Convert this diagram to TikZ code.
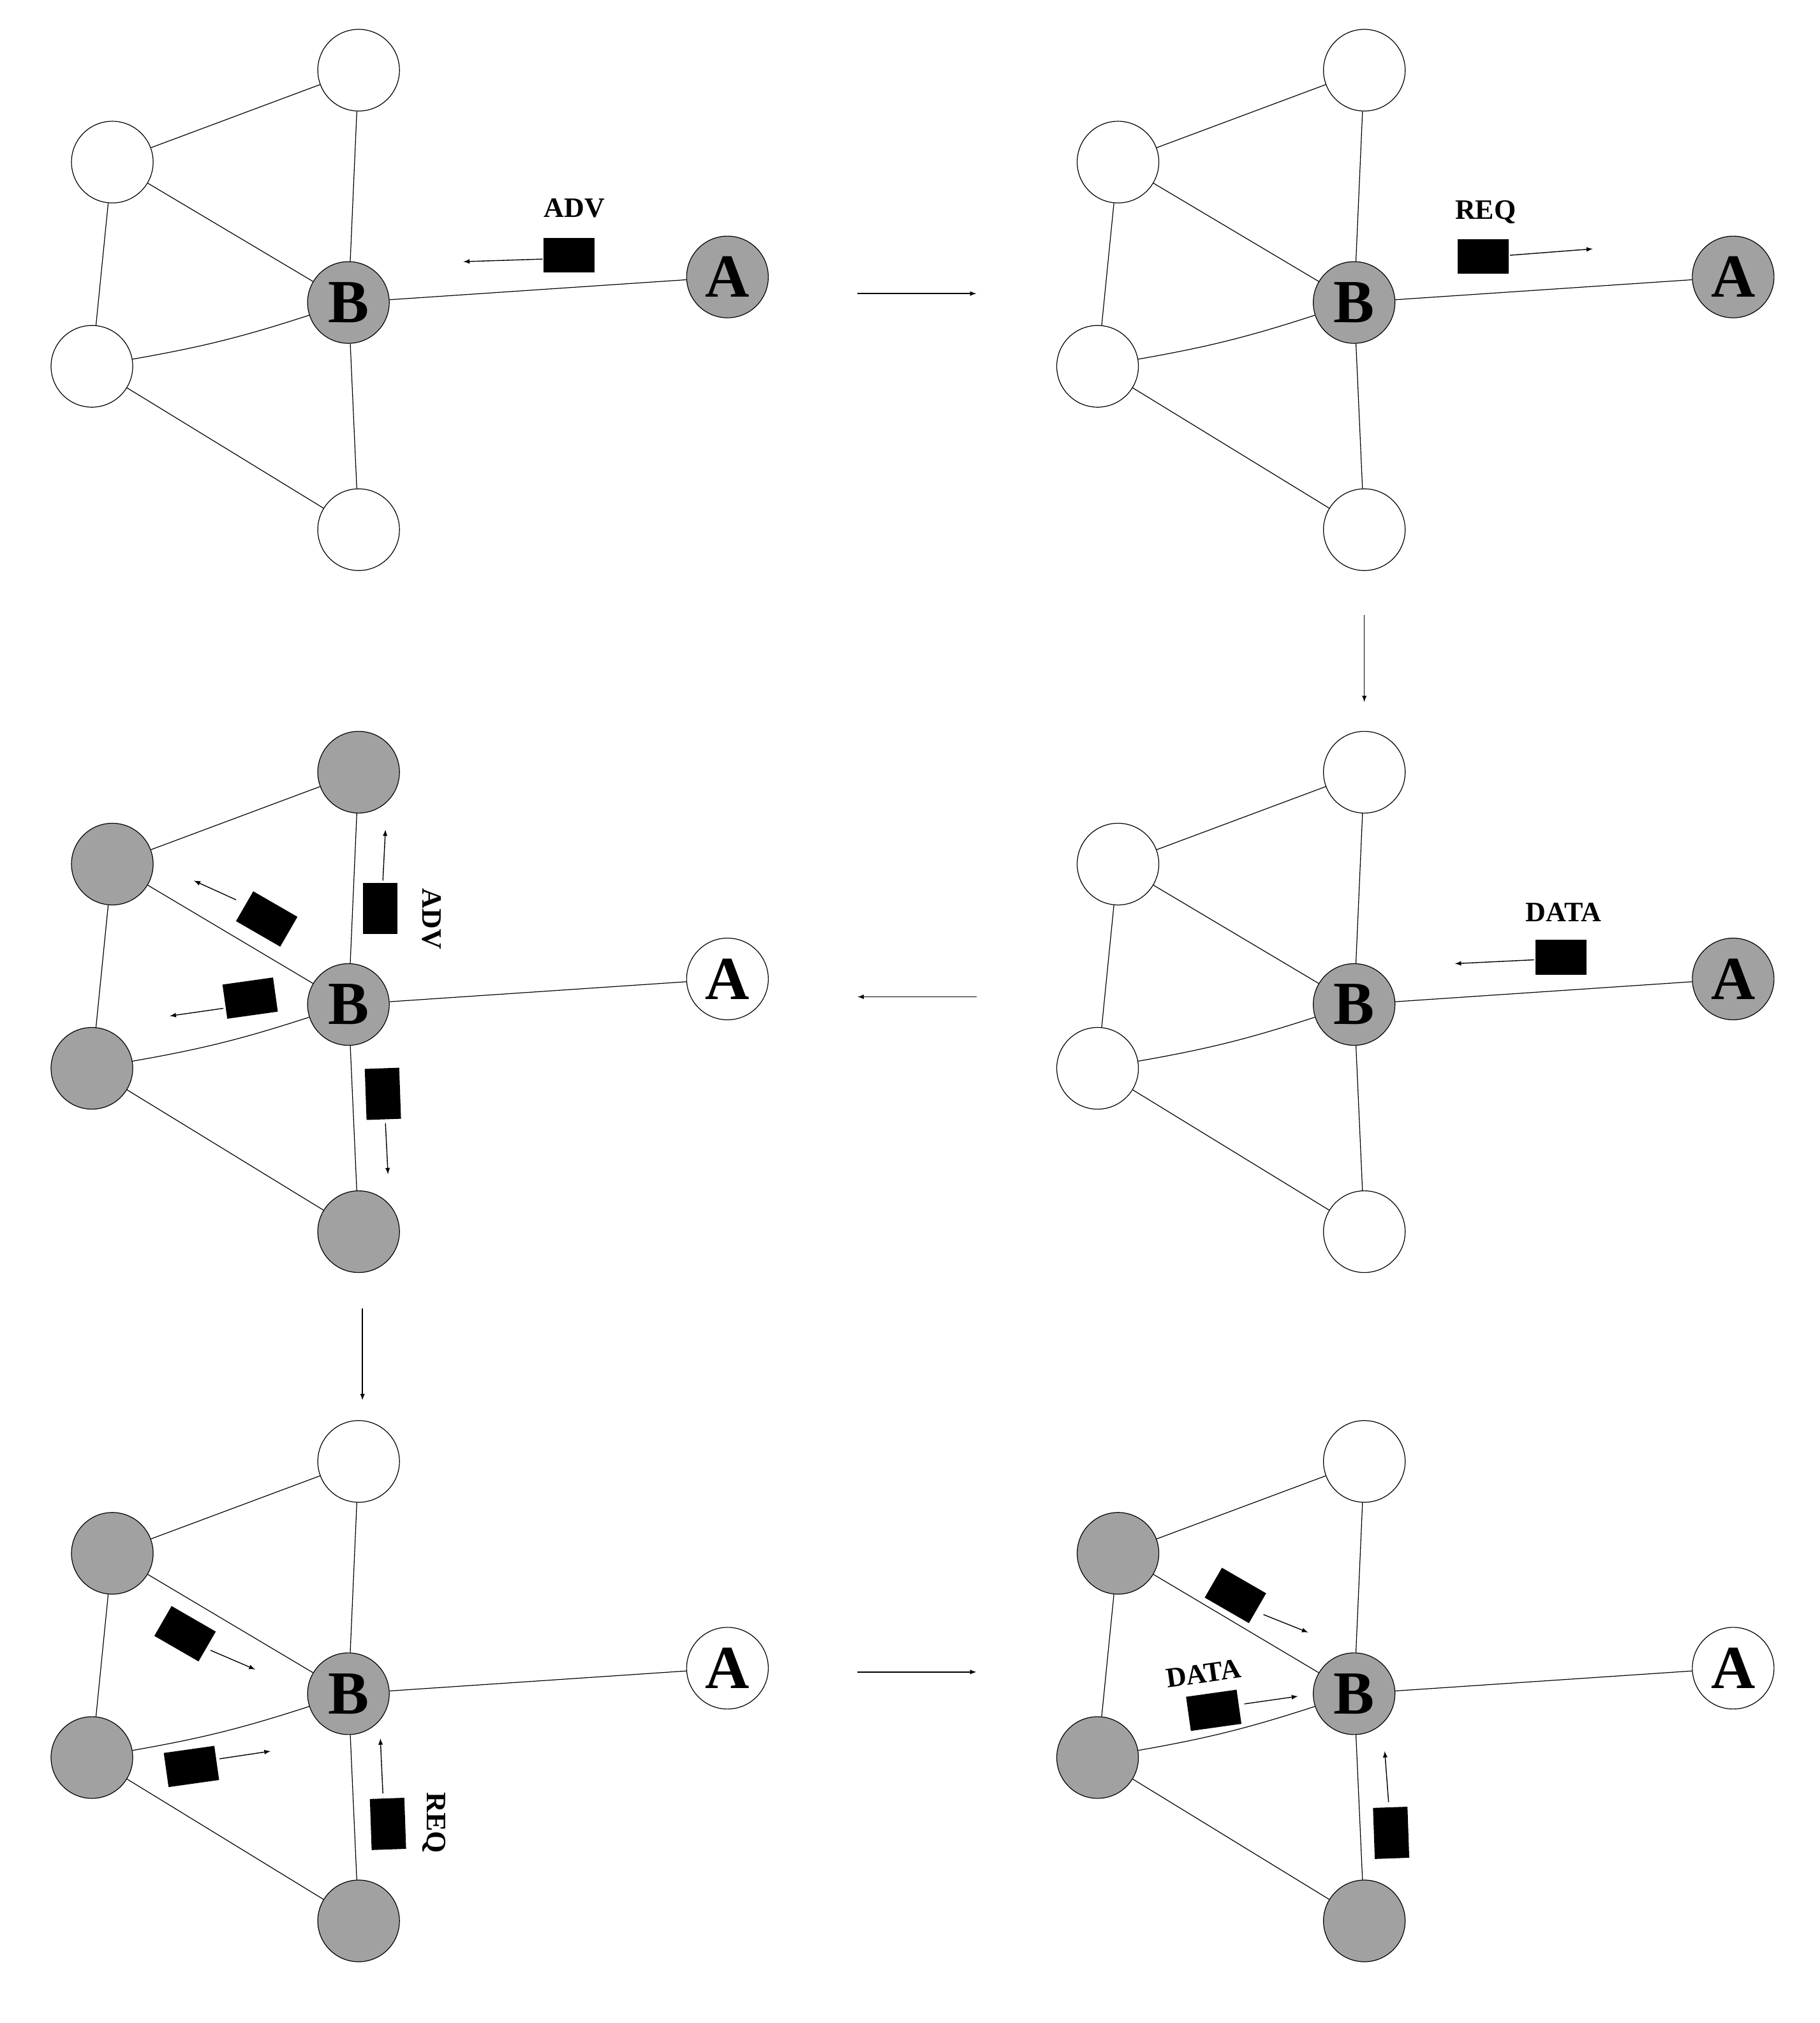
\documentclass[tikz,border=0pt]{standalone}
\usepackage{fontspec}
\setmainfont{Liberation Serif}
\begin{document}
\begin{tikzpicture}[x=1pt,y=-1pt,
  nd/.style={circle,draw,line width=0.6pt,minimum size=64pt,inner sep=0pt,font=\fontsize{48}{48}\selectfont\bfseries},
  g/.style={fill=black!37},
  w/.style={fill=white},
  edge/.style={line width=0.6pt},
  msg/.style={fill=black,minimum width=40pt,minimum height=27pt,inner sep=0pt},
  ar/.style={line width=0.7pt,-latex},
  lab/.style={font=\fontsize{22}{22}\selectfont\bfseries},
  stp/.style={line width=0.7pt,-latex}]
\useasboundingbox (0,0) rectangle (1426,1585);
\newcommand\panel[8]{%
 \begin{scope}[shift={(#2,#3)}]
  \node[nd,#4] (#1t) at (281,55) {};
  \node[nd,#5] (#1u) at (88,127) {};
  \node[nd,#6] (#1l) at (72,287) {};
  \node[nd,#7] (#1d) at (281,415) {};
  \node[nd,g] (#1b) at (273,237) {B};
  \node[nd,#8] (#1a) at (570,217) {A};
  \draw[edge] (#1u)--(#1t) (#1u)--(#1l) (#1u)--(#1b) (#1t)--(#1b) (#1b)--(#1d) (#1l)--(#1d) (#1b)--(#1a);
  \draw[edge] (#1l) to[bend right=4] (#1b);
 \end{scope}}
\panel{p}{0}{0}{w}{w}{w}{w}{g}
\panel{q}{788}{0}{w}{w}{w}{w}{g}
\panel{r}{788}{550}{w}{w}{w}{w}{g}
\panel{s}{0}{550}{g}{g}{g}{g}{w}
\panel{t}{0}{1090}{w}{g}{g}{g}{w}
\panel{v}{788}{1090}{w}{g}{g}{g}{w}
% panel 1
\node[msg] (m1) at (446,200) {};
\node[lab] (l1) at (450,163) {ADV};
\draw[ar] (425,203)--(363,205);
% panel 2
\node[msg] (m2) at (1162,201) {};
\node[lab] (l2) at (1164,166) {REQ};
\draw[ar] (1183,200)--(1248,195);
% panel 3
\node[msg] (m3) at (1223,750) {};
\node[lab] (l3) at (1225,715) {DATA};
\draw[ar] (1202,752)--(1140,755);
% panel 4
\node[msg,rotate=-30] (m4a) at (209,720) {};
\draw[ar] (185,705)--(152,690);
\node[msg,rotate=90] (m4b) at (298,712) {};
\draw[ar] (300,690)--(302,650);
\node[lab,rotate=-90] (l4) at (338,720) {ADV};
\node[msg,rotate=8] (m4c) at (196,782) {};
\draw[ar] (175,790)--(133,796);
\node[msg,rotate=92] (m4d) at (300,857) {};
\draw[ar] (302,880)--(304,920);
% panel 5
\node[msg,rotate=-30] (m5a) at (145,1280) {};
\draw[ar] (165,1293)--(200,1308);
\node[msg,rotate=8] (m5b) at (150,1384) {};
\draw[ar] (172,1378)--(212,1372);
\node[msg,rotate=92] (m5c) at (304,1429) {};
\draw[ar] (300,1405)--(298,1362);
\node[lab,rotate=-90] (l5) at (340,1428) {REQ};
% panel 6
\node[msg,rotate=-30] (m6a) at (968,1250) {};
\draw[ar] (990,1265)--(1025,1279);
\node[msg,rotate=8] (m6b) at (951,1340) {};
\draw[ar] (975,1335)--(1017,1329);
\node[lab,rotate=8] (l6) at (943,1311) {DATA};
\node[msg,rotate=92] (m6c) at (1090,1436) {};
\draw[ar] (1088,1412)--(1085,1372);
% steps
\draw[stp] (672,230)--(765,230);
\draw[stp] (1069,482)--(1069,550);
\draw[stp] (765,781)--(672,781);
\draw[stp] (284,1025)--(284,1097);
\draw[stp] (672,1310)--(765,1310);
\end{tikzpicture}
\end{document}
